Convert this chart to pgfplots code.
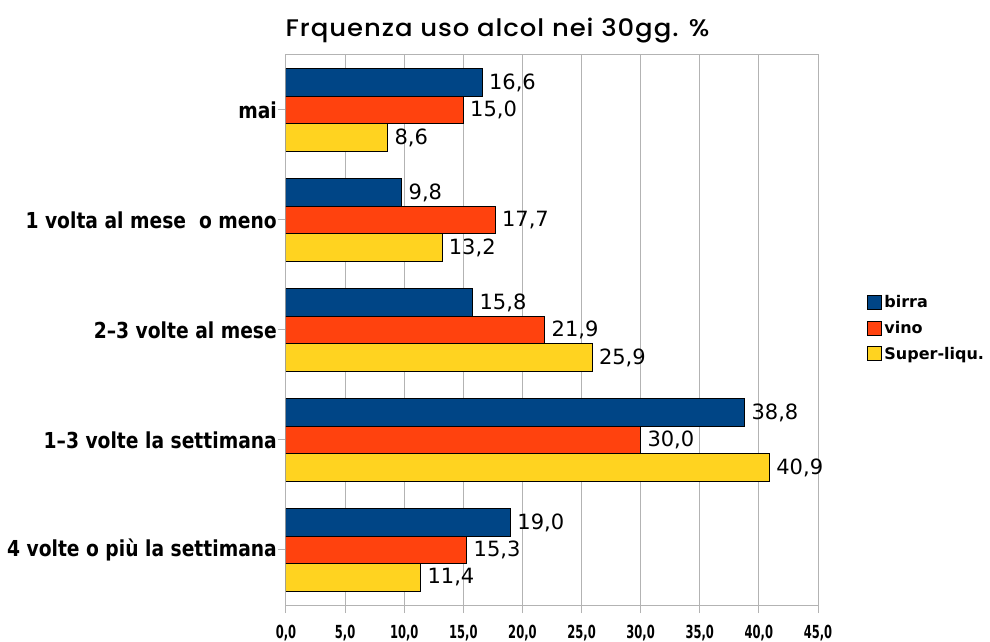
\documentclass[border=0pt]{standalone}
\usepackage{fontspec}
\usepackage{pgfplots}
\pgfplotsset{compat=1.18}
\setmainfont{DejaVu Sans}
\newfontfamily\titlefont[FakeStretch=1.08,LetterSpace=4]{Poppins Medium}
\newfontfamily\catfont[FakeStretch=0.85]{DejaVu Sans Bold}
\newfontfamily\tickfont[FakeStretch=0.64]{DejaVu Sans Bold}
\newfontfamily\legfont{DejaVu Sans Bold}
\definecolor{cbirra}{HTML}{004586}
\definecolor{cvino}{HTML}{FF420E}
\definecolor{csuper}{HTML}{FFD320}
\definecolor{gridgray}{HTML}{B3B3B3}
\begin{document}
\begin{tikzpicture}[x=1pt,y=1pt]
\path[use as bounding box] (0,0) rectangle (990,642);
\node at (497.5,611) {\titlefont\fontsize{24}{28}\selectfont Frquenza uso alcol nei 30gg. \%};
\begin{axis}[
  at={(286pt,37pt)}, anchor=south west,
  scale only axis, width=532pt, height=550pt,
  xbar, bar width=27.5pt,
  xmin=0, xmax=45, ymin=-0.5, ymax=4.5,
  xtick={0,5,...,45}, ytick={0,...,4},
  yticklabels={4 volte o più la settimana, 1–3 volte la settimana, 2–3 volte al mese, 1 volta al mese\ \ o meno, mai},
  yticklabel style={font=\catfont\fontsize{22}{24}\selectfont, inner sep=1pt},
  xticklabel={\pgfmathprintnumber[fixed,fixed zerofill,precision=1,use comma,assume math mode=true]{\tick}},
  xticklabel style={font=\tickfont\fontsize{18}{20}\selectfont, yshift=-9pt},
  xmajorgrids, grid style={gridgray, line width=1pt},
  axis line style={gridgray, line width=1pt},
  tick style={gridgray, line width=1pt},
  major tick length=8pt, tick align=outside,
  xtick pos=bottom, ytick pos=left,
  nodes near coords,
  every node near coord/.append style={font=\fontsize{21}{23}\selectfont, anchor=west, xshift=3pt, black},
  /pgf/number format/.cd, fixed, fixed zerofill, precision=1, use comma, assume math mode=true, /pgfplots/.cd,
  legend style={draw=none, fill=none, at={(1.0925,0.5036)}, anchor=west, inner sep=0pt,
    font=\legfont\fontsize{16}{18}\selectfont, row sep=8pt, nodes={inner sep=2pt}},
  legend cell align=left,
  legend image code/.code={\draw[#1,draw=black,line width=1pt] (0pt,-7pt) rectangle (14pt,7pt);},
]
\addplot[fill=cbirra, draw=black, line width=1pt, bar shift=27.5pt] coordinates {(19.0,0) (38.8,1) (15.8,2) (9.8,3) (16.6,4)};
\addplot[fill=cvino, draw=black, line width=1pt, bar shift=0pt] coordinates {(15.3,0) (30.0,1) (21.9,2) (17.7,3) (15.0,4)};
\addplot[fill=csuper, draw=black, line width=1pt, bar shift=-27.5pt] coordinates {(11.4,0) (40.9,1) (25.9,2) (13.2,3) (8.6,4)};
\legend{birra, vino, Super-liqu.}
\end{axis}
\end{tikzpicture}
\end{document}
